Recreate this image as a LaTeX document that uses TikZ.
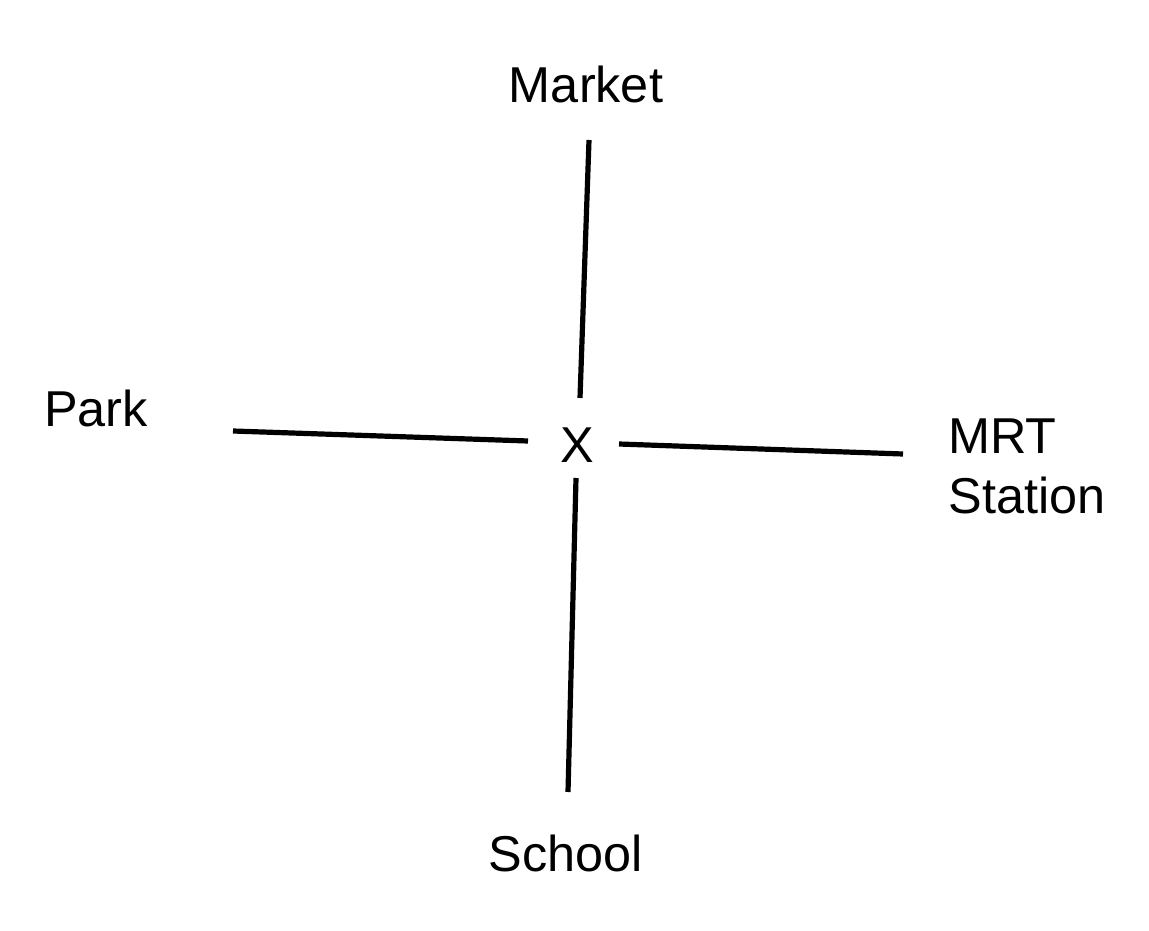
\documentclass[tikz,border=0pt]{standalone}
\usepackage{fontspec}
\setmainfont{Liberation Sans}
\begin{document}
\begin{tikzpicture}[x=0.5pt,y=-0.5pt,
  lbl/.style={font=\fontsize{25.2}{30}\selectfont, inner sep=0pt},
  road/.style={line width=2.6pt, black}]
\useasboundingbox (0,0) rectangle (1149,930);
\node[lbl] (market) at (586,84) {Market};
\node[lbl] (park) at (96,408) {Park};
\node[lbl, align=left, anchor=west] (mrt) at (948,466) {MRT\\Station};
\node[lbl] (school) at (566,853) {School};
\node[lbl] (x) at (577,445) {X};
\coordinate (t1) at (589,140); \coordinate (t2) at (580,398);
\coordinate (b1) at (576,478); \coordinate (b2) at (568,792);
\coordinate (l1) at (233,431); \coordinate (l2) at (528,441);
\coordinate (r1) at (619,444); \coordinate (r2) at (903,454);
\draw[road] (t1) -- (t2);
\draw[road] (b1) -- (b2);
\draw[road] (l1) -- (l2);
\draw[road] (r1) -- (r2);
\end{tikzpicture}
\end{document}
